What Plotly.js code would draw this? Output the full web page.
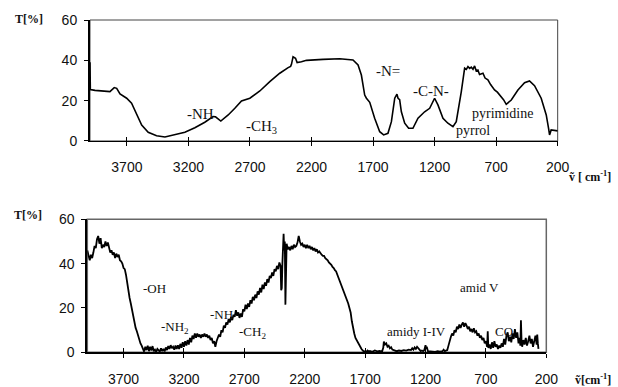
<!DOCTYPE html>
<html>
<head>
<meta charset="utf-8">
<script src="https://cdn.plot.ly/plotly-3.0.1.min.js"></script>
<style>html,body{margin:0;padding:0;background:#fff;}#chart{width:618px;height:387px;}</style>
</head>
<body>
<div id="chart"></div>
<script>
// Top spectrum
const topWn = [4000,3997,3959,3878,3838,3803,3783,3756,3702,3662,3621,3580,3527,3459,3391,3310,3229,3148,3067,3000,2980,2937,2877,2823,2782,2769,2701,2620,2539,2458,2390,2370,2363,2350,2330,2317,2282,2241,2106,1971,1863,1822,1795,1768,1754,1727,1687,1646,1614,1579,1551,1524,1506,1497,1484,1470,1443,1411,1376,1335,1281,1240,1200,1173,1132,1092,1051,1024,983,956,942,929,915,902,888,875,862,848,835,807,790,767,745,713,690,658,640,618,577,523,469,429,388,334,293,274,266,253,226,200];
const topT  = [39,25.5,25.1,24.8,24.5,26.5,26.1,23.3,21.2,18.7,12.9,7.9,4.3,2.6,2.0,3.0,4.3,6.6,9.3,12.1,12.0,9.9,12.9,16.2,18.7,19.8,21.2,24.8,29.4,33.6,36.4,37.0,38,41.8,41,38.9,39.3,40,40.5,40.8,40.2,37.7,32.7,22.8,21.2,19.2,11.3,4.6,3.0,3.8,9.6,21.2,23.2,21.2,20.5,14.5,8.8,6.3,6.3,11.3,14.5,16.2,21.2,17.9,11.3,8.8,7.1,9.6,24.5,36.1,35.5,36.9,36.0,36.6,35.6,37.2,34.8,35.2,33.0,33.6,31.2,30.3,28.0,25.3,24.2,22.0,20.5,18.2,20.3,25.3,28.9,29.8,27.4,21.2,12.9,6.3,3.0,5.5,5.1,5];

// Bottom spectrum
const botWn = [4000,3990,3980,3970,3960,3950,3940,3930,3920,3910,3900,3890,3880,3870,3860,3850,3840,3830,3820,3810,3800,3790,3780,3770,3760,3750,3740,3730,3720,3710,3700,3690,3680,3670,3660,3650,3640,3630,3620,3610,3600,3590,3580,3570,3560,3550,3540,3530,3520,3510,3500,3490,3480,3470,3460,3450,3440,3430,3420,3400,3390,3380,3370,3360,3350,3340,3330,3320,3310,3300,3290,3280,3270,3260,3250,3240,3230,3220,3210,3200,3190,3180,3170,3160,3150,3140,3130,3120,3110,3100,3090,3080,3070,3060,3050,3040,3030,3020,3010,3000,2990,2980,2970,2960,2950,2940,2930,2920,2910,2900,2890,2880,2870,2860,2850,2840,2830,2820,2810,2800,2790,2780,2770,2760,2750,2740,2730,2720,2710,2700,2690,2680,2670,2660,2650,2640,2630,2620,2610,2600,2590,2580,2570,2560,2550,2540,2530,2520,2510,2500,2490,2480,2470,2460,2450,2440,2430,2420,2410,2400,2395,2390,2385,2375,2370,2365,2360,2355,2350,2340,2330,2320,2310,2300,2290,2280,2270,2260,2250,2240,2230,2220,2210,2200,2190,2180,2170,2160,2150,2140,2130,2120,2110,2100,2090,2080,2070,2060,2050,2040,2030,2020,2010,2000,1990,1980,1970,1960,1950,1940,1930,1920,1910,1900,1890,1880,1870,1860,1850,1840,1830,1820,1810,1800,1790,1780,1770,1760,1750,1740,1730,1720,1710,1700,1690,1680,1670,1660,1640,1620,1600,1580,1560,1550,1545,1535,1525,1515,1505,1495,1485,1475,1460,1440,1420,1400,1380,1360,1340,1320,1310,1300,1290,1280,1270,1260,1250,1240,1230,1220,1210,1200,1195,1190,1180,1160,1140,1120,1100,1080,1060,1050,1040,1030,1020,1010,1000,990,980,970,960,950,940,930,920,910,900,890,880,870,860,850,840,830,820,810,800,790,780,770,760,750,740,730,720,710,700,690,685,680,670,660,650,640,630,620,610,600,590,580,570,560,550,540,530,520,510,500,490,480,470,460,450,440,430,420,415,410,405,400,390,380,370,360,350,340,330,320,310,300,290,280,275,270,265];
const botT  = [46,43,41.5,44,42.5,45,48,47,51,52.5,49,51.5,47,48.5,47.5,50,48,49.5,47,45,46,44,45,42.5,44.5,43,44,41.5,41,40,38,37.5,35,31,27,24.5,22,19,16.5,13.5,11,9.5,7.5,6.5,4,3,1.5,0.3,2.5,1,3,0.5,2.5,0.8,2.8,0.5,1.2,0.2,1.5,0.3,1.8,0.5,1.5,0.4,2.2,1,2.8,1.5,3.2,1.8,2.5,1.2,3,1.5,3.2,1.5,3.8,2,4.5,2.5,5,3,5.5,3.5,6.5,4.5,7.5,6,8.5,6.5,8.5,7,8,6.5,8,7,8.5,7,8,6.5,7.5,5.5,6.5,4,5,2.5,5,6.5,8,7,10,9,12,11,13.5,12.5,15,13.5,16,14.5,17,16,19,16.5,18,15.5,17.5,16,19.5,18.5,21.5,19.5,22,20.5,23.5,22,25,23.5,26,24.5,27.5,26,29,27,30.5,28.5,31.5,30,33,31.5,34.5,33.5,36,34.5,37.5,36.5,39,37.5,40.5,39,28,29,40,53.5,46,50,21.5,44,49,46.5,47.5,46,48,46.5,48.5,47.5,48,49.5,52.5,50,48.5,49,47.5,48.5,47,48.5,47,48,46.5,47.5,46,47,45.5,46.5,45,45.5,44.5,44,43.5,43.5,42.5,42,41.5,40.5,40,39.5,38.5,38,37,36.5,35,33.5,32.5,31.5,30,28.5,27,25.5,24,22,20,18,14,10,8.5,6.5,5.5,4,3.5,2.5,1.5,0.8,0.3,0.5,0.2,0.8,0.3,0.6,0.2,0.8,0.4,0.6,0.3,2,4.8,3.5,4,2.5,3,1.8,2.3,1.2,1,0.5,0.8,0.6,1,0.8,1.2,1,1.8,1.2,2.2,1.5,2.5,1.8,1.2,0.5,0.8,0.5,1,3.2,1.5,2.5,0.5,0.3,0.4,0.2,0.5,0.3,0.5,1.2,0.5,0.8,1,3,5.5,7,8.5,7.5,10,9,11.5,10.5,12.5,11,12.5,13.5,11.5,13.2,12,10.5,11.5,9.5,10.5,9,10.8,9,9.5,7.5,8.5,6.5,7.5,5.5,6.5,4,5,2.5,9.5,2,3.5,1.5,4.5,2,5,2.5,3.5,1.5,3,2,4,2.5,6,3.5,7.5,9,5,7,4.5,8.5,6,10.5,6.5,9,4,6.5,3,14.5,5,2.5,5.5,3.5,6.5,3,5,7.5,4,6,2.5,4.5,7.5,3.5,8,4,1.5];

const xTicks = [3700,3200,2700,2200,1700,1200,700,200];
const yTicks = [0,20,40,60];

const tickFont = {family: 'Liberation Sans, Arial, sans-serif', size: 14, color: '#111'};
const serif = 'Liberation Serif, Times New Roman, serif';

function xax(domain, anchor) {
  return {domain: domain, anchor: anchor, range: [4000, 200], tickvals: xTicks, ticktext: xTicks.map(String),
    showgrid: false, zeroline: false, showline: true, linecolor: '#000', linewidth: 1.5,
    ticks: 'outside', ticklen: 4, tickcolor: '#000', tickwidth: 1, tickfont: tickFont, ticklabelstandoff: 9};
}
function xaxInner(domain, anchor, over) {
  return {domain: domain, anchor: anchor, overlaying: over, range: [4000, 200], tickvals: xTicks,
    showgrid: false, zeroline: false, showline: false, showticklabels: false,
    ticks: 'inside', ticklen: 4, tickcolor: '#000', tickwidth: 1};
}
function yax(domain, anchor) {
  return {domain: domain, anchor: anchor, range: [0, 60], tickvals: yTicks, ticktext: yTicks.map(String),
    showgrid: false, zeroline: false, showline: true, linecolor: '#000', linewidth: 2,
    ticks: 'outside', ticklen: 4, tickcolor: '#000', tickwidth: 1, tickfont: tickFont, ticklabelstandoff: 4};
}

const traces = [
  {x: topWn, y: topT, xaxis: 'x', yaxis: 'y', mode: 'lines', line: {color: '#000', width: 1.6}, hoverinfo: 'skip'},
  {x: botWn, y: botT, xaxis: 'x2', yaxis: 'y2', mode: 'lines', line: {color: '#000', width: 1.8}, hoverinfo: 'skip'},
  {x: [4000], y: [-10], xaxis: 'x3', yaxis: 'y', mode: 'markers', marker: {opacity: 0}, hoverinfo: 'skip'},
  {x: [4000], y: [-10], xaxis: 'x4', yaxis: 'y2', mode: 'markers', marker: {opacity: 0}, hoverinfo: 'skip'}
];

function ann(text, x, y, xref, yref, size, bold) {
  return {text: bold ? '<b>' + text + '</b>' : text, x: x, y: y, xref: xref, yref: yref, showarrow: false,
    font: {family: serif, size: size, color: '#111'}, xanchor: 'center', yanchor: 'middle'};
}

const layout = {
  width: 618, height: 387, margin: {l: 0, r: 0, t: 0, b: 0},
  paper_bgcolor: '#fff', plot_bgcolor: '#fff', showlegend: false,
  xaxis: xax([0.1456, 0.9024], 'y'),
  yaxis: yax([0.6357, 0.9483], 'x'),
  xaxis2: xax([0.1413, 0.8840], 'y2'),
  yaxis2: yax([0.0897, 0.4333], 'x2'),
  xaxis3: xaxInner([0.1456, 0.9024], 'y', 'x'),
  xaxis4: xaxInner([0.1413, 0.8840], 'y2', 'x2'),
  shapes: [
    {type: 'rect', xref: 'x domain', yref: 'y domain', x0: 0, x1: 1, y0: 0, y1: 1, line: {color: '#444', width: 1}, layer: 'below'},
    {type: 'rect', xref: 'x2 domain', yref: 'y2 domain', x0: 0, x1: 1, y0: 0, y1: 1, line: {color: '#666', width: 1.5}, layer: 'below'}
  ],
  annotations: [
    ann('T[%]', 29 / 618, 1 - 19 / 387, 'paper', 'paper', 12, true),
    ann('-NH', 3099, 13.4, 'x', 'y', 15),
    ann('-CH<sub>3</sub>', 2604, 7.1, 'x', 'y', 15),
    ann('-N=', 1577, 34.7, 'x', 'y', 15),
    ann('-C-N-', 1232, 24.9, 'x', 'y', 15),
    ann('pyrimidine', 648, 13.7, 'x', 'y', 14),
    ann('pyrrol', 891, 5.1, 'x', 'y', 14),
    ann('ṽ [ cm<sup>-1</sup>]', 590 / 618, 1 - 177 / 387, 'paper', 'paper', 12, true),
    ann('T[%]', 28 / 618, 1 - 215 / 387, 'paper', 'paper', 12, true),
    ann('-OH', 3447, 28.9, 'x2', 'y2', 13),
    ann('-NH<sub>2</sub>', 3273, 11.1, 'x2', 'y2', 13),
    ann('-NH', 2889, 17.1, 'x2', 'y2', 13),
    ann('-CH<sub>2</sub>', 2634, 9.0, 'x2', 'y2', 13),
    ann('amid V', 754, 29.3, 'x2', 'y2', 13),
    ann('amidy I-IV', 1278, 9.3, 'x2', 'y2', 13),
    ann('CO', 547, 9.3, 'x2', 'y2', 13),
    ann('ṽ[cm<sup>-1</sup>]', 593 / 618, 1 - 379 / 387, 'paper', 'paper', 12, true)
  ]
};

Plotly.newPlot('chart', traces, layout, {staticPlot: true, displayModeBar: false});
</script>
</body>
</html>
